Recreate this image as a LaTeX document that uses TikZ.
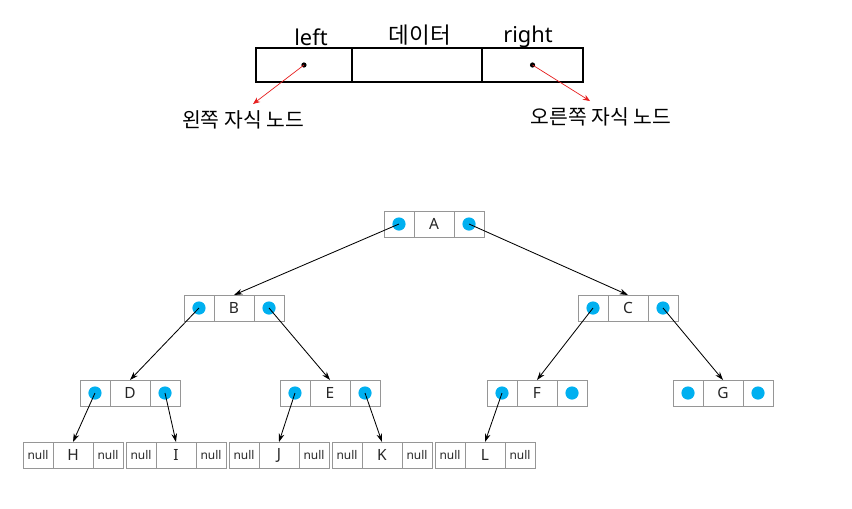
\documentclass[tikz,border=0pt]{standalone}
\usepackage{fontspec}
\setmainfont{Noto Sans}
\newfontfamily\kofont{Noto Sans CJK KR}
\usetikzlibrary{positioning,arrows.meta}

\definecolor{cellgray}{RGB}{150,150,150}
\definecolor{dotblue}{RGB}{0,176,240}
\definecolor{linkred}{RGB}{230,30,30}

\tikzset{
	cell/.style={rectangle, draw=cellgray, line width=0.6pt, minimum height=0.65cm, inner sep=0pt, outer sep=0pt, text=black!85, font=\fontsize{11}{12}\selectfont},
	side/.style={cell, minimum width=0.75cm},
	mid/.style={cell, minimum width=1cm},
	nullcell/.style={side, font=\fontsize{8.5}{9}\selectfont},
	bigcell/.style={rectangle, draw, line width=0.8pt, minimum height=0.85cm, inner sep=0pt, outer sep=0pt},
	label/.style={font=\fontsize{15.5}{17}\selectfont, inner sep=0pt},
	kolabel/.style={font=\kofont\fontsize{14.5}{16}\selectfont, inner sep=0pt},
	link/.style={-{Stealth[length=6pt,width=4pt]}, line width=0.6pt},
	redlink/.style={-{Stealth[length=5pt,width=4pt]}, linkred, line width=0.5pt}
}

\begin{document}
\begin{tikzpicture}[x=0.025cm, y=-0.025cm]
		
		\useasboundingbox (0,0) rectangle (852,508);
		
		%Structure of one node
		\node (data) at (417,65) [bigcell, minimum width=3.25cm]{};
		\node (leftptr) [bigcell, minimum width=2.4cm, left=0pt of data]{};
		\node (rightptr) [bigcell, minimum width=2.525cm, right=0pt of data]{};
		
		\node (leftname) at (311,37) [label]{left};
		\node (dataname) at (420,35) [label, font=\kofont\fontsize{16}{18}\selectfont]{데이터};
		\node (rightname) at (528,37) [label]{right};
		
		\fill (leftptr.center) circle (0.065cm);
		\fill (rightptr.center) circle (0.065cm);
		
		\coordinate (leftend) at (253,104);
		\coordinate (rightend) at (590,101);
		\draw[redlink] (leftptr.center) -- (leftend);
		\draw[redlink] (rightptr.center) -- (rightend);
		
		\node (leftchild) at (243,120) [kolabel]{왼쪽 자식 노드};
		\node (rightchild) at (601,117) [kolabel]{오른쪽 자식 노드};
		
		%Tree nodes
		\node (A) at (434,224) [mid]{A};
		\node (A-l) [side, left=0pt of A]{};
		\node (A-r) [side, right=0pt of A]{};
		
		\node (B) at (234,308) [mid]{B};
		\node (B-l) [side, left=0pt of B]{};
		\node (B-r) [side, right=0pt of B]{};
		
		\node (C) at (628,308) [mid]{C};
		\node (C-l) [side, left=0pt of C]{};
		\node (C-r) [side, right=0pt of C]{};
		
		\node (D) at (130,393) [mid]{D};
		\node (D-l) [side, left=0pt of D]{};
		\node (D-r) [side, right=0pt of D]{};
		
		\node (E) at (330,393) [mid]{E};
		\node (E-l) [side, left=0pt of E]{};
		\node (E-r) [side, right=0pt of E]{};
		
		\node (F) at (537,393) [mid]{F};
		\node (F-l) [side, left=0pt of F]{};
		\node (F-r) [side, right=0pt of F]{};
		
		\node (G) at (723,393) [mid]{G};
		\node (G-l) [side, left=0pt of G]{};
		\node (G-r) [side, right=0pt of G]{};
		
		%Leaves
		\node (H) at (73,455) [mid]{H};
		\node (H-l) [nullcell, left=0pt of H]{null};
		\node (H-r) [nullcell, right=0pt of H]{null};
		
		\node (I) at (176,455) [mid]{I};
		\node (I-l) [nullcell, left=0pt of I]{null};
		\node (I-r) [nullcell, right=0pt of I]{null};
		
		\node (J) at (279,455) [mid]{J};
		\node (J-l) [nullcell, left=0pt of J]{null};
		\node (J-r) [nullcell, right=0pt of J]{null};
		
		\node (K) at (382,455) [mid]{K};
		\node (K-l) [nullcell, left=0pt of K]{null};
		\node (K-r) [nullcell, right=0pt of K]{null};
		
		\node (L) at (485,455) [mid]{L};
		\node (L-l) [nullcell, left=0pt of L]{null};
		\node (L-r) [nullcell, right=0pt of L]{null};
		
		%Pointer dots
		\fill[dotblue] (A-l.center) circle (0.165cm);
		\fill[dotblue] (A-r.center) circle (0.165cm);
		\fill[dotblue] (B-l.center) circle (0.165cm);
		\fill[dotblue] (B-r.center) circle (0.165cm);
		\fill[dotblue] (C-l.center) circle (0.165cm);
		\fill[dotblue] (C-r.center) circle (0.165cm);
		\fill[dotblue] (D-l.center) circle (0.165cm);
		\fill[dotblue] (D-r.center) circle (0.165cm);
		\fill[dotblue] (E-l.center) circle (0.165cm);
		\fill[dotblue] (E-r.center) circle (0.165cm);
		\fill[dotblue] (F-l.center) circle (0.165cm);
		\fill[dotblue] (F-r.center) circle (0.165cm);
		\fill[dotblue] (G-l.center) circle (0.165cm);
		\fill[dotblue] (G-r.center) circle (0.165cm);
		
		%Links
		\draw[link] (A-l.center) -- (B.north);
		\draw[link] (A-r.center) -- (C.north);
		\draw[link] (B-l.center) -- (D.north);
		\draw[link] (B-r.center) -- (E.north);
		\draw[link] (C-l.center) -- (F.north);
		\draw[link] (C-r.center) -- (G.north);
		\draw[link] (D-l.center) -- (H.north);
		\draw[link] (D-r.center) -- (I.north);
		\draw[link] (E-l.center) -- (J.north);
		\draw[link] (E-r.center) -- (K.north);
		\draw[link] (F-l.center) -- (L.north);
		
\end{tikzpicture}
\end{document}
